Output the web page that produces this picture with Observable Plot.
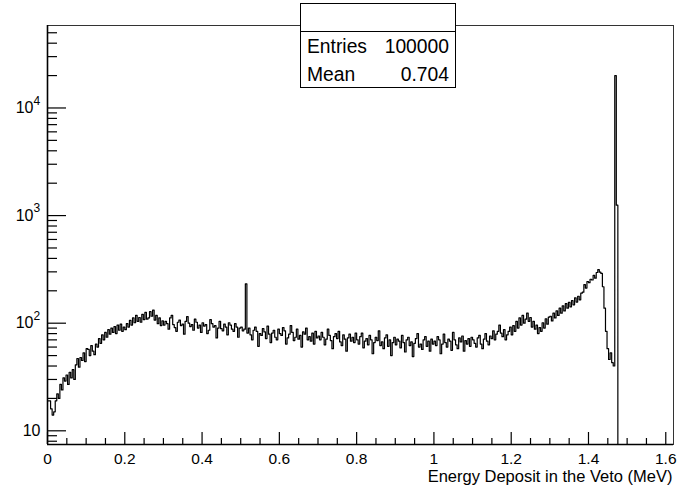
<!DOCTYPE html>
<html><head><meta charset="utf-8">
<script src="https://cdn.jsdelivr.net/npm/d3@7"></script>
<script src="https://cdn.jsdelivr.net/npm/@observablehq/plot@0.6"></script>
<style>
body{margin:0;background:#fff;}
#chart{width:679px;height:488px;}
</style>
</head><body><div id="chart"></div>
<script>
// Histogram: bin width in MeV, counts per bin starting at 0 MeV
const binWidth = 0.004;
const counts = [
  19,19,16,14,15,19,22,20,27,24,31,29,33,27,35,31,37,30,41,47,39,48,45,53,44,
  58,57,50,62,55,51,64,60,72,65,78,70,82,74,87,79,90,82,93,80,96,86,98,84,92,
  87,99,92,106,96,112,101,118,104,113,102,121,108,126,109,112,128,116,132,107,118,99,112,95,105,
  96,104,99,88,112,118,97,91,84,102,107,95,98,79,104,115,100,93,97,86,109,102,90,96,82,
  101,94,97,80,86,108,99,92,95,73,90,104,89,85,98,92,78,101,96,88,84,99,92,74,90,
  92,85,88,232,81,90,78,70,86,92,84,61,80,77,89,83,72,94,79,66,81,86,74,70,88,
  80,77,91,85,64,73,79,95,82,69,74,88,71,77,60,83,79,90,70,75,68,81,64,84,73,
  76,70,82,74,63,71,88,77,69,58,75,80,72,84,67,62,78,71,55,73,79,68,74,66,81,
  70,64,75,81,59,68,72,63,77,70,52,66,74,69,85,62,67,58,73,78,61,70,50,66,74,
  63,71,68,59,77,66,54,70,74,62,67,49,65,72,80,60,64,57,70,75,61,68,55,71,64,
  68,62,75,70,52,64,79,66,60,71,68,56,82,70,63,58,73,67,76,55,69,64,72,61,74,
  70,65,60,73,77,64,58,71,80,68,63,76,72,85,70,79,84,96,81,75,87,70,78,84,92,
  78,95,84,104,90,112,96,118,100,109,124,104,113,92,104,88,96,80,91,84,101,90,110,98,114,
  116,105,124,112,130,118,138,124,145,130,152,138,156,142,162,148,172,157,178,165,190,194,228,212,244,
  238,256,252,278,262,296,314,298,290,218,138,84,58,46,53,43,40,20000,1250
];
const xDomain = [0, 1.62];
const yDomain = [7.46, 58400];
const xMajor = [0, 0.2, 0.4, 0.6, 0.8, 1, 1.2, 1.4, 1.6];
const xLabels = ["0", "0.2", "0.4", "0.6", "0.8", "1", "1.2", "1.4", "1.6"];
const xMinor = [0.05,0.1,0.15,0.25,0.3,0.35,0.45,0.5,0.55,0.65,0.7,0.75,0.85,0.9,0.95,1.05,1.1,1.15,1.25,1.3,1.35,1.45,1.5,1.55];
const yMajor = [10, 100, 1000, 10000];
const yBase = ["10", "10", "10", "10"];
const yExp = ["", "2", "3", "4"];
const yMinor = [8,9,20,30,40,50,60,70,80,90,200,300,400,500,600,700,800,900,2000,3000,4000,5000,6000,7000,8000,9000,20000,30000,40000,50000];
const xTitle = "Energy Deposit in the Veto (MeV)";
const statNames = ["Entries", "Mean"];
const statValues = ["100000", "0.704"];

const FONT = "'Liberation Sans', Arial, Helvetica, sans-serif";

// step outline of the histogram
const pts = [];
counts.forEach((c, i) => {
  pts.push({x: i * binWidth, y: c});
  pts.push({x: (i + 1) * binWidth, y: c});
});
pts.push({x: counts.length * binWidth, y: yDomain[0]});

const expTicks = yMajor.map((v, i) => ({v, base: yBase[i], exp: yExp[i]}));
const withExp = expTicks.filter(d => d.exp !== "");
const noExp = expTicks.filter(d => d.exp === "");

const svg = Plot.plot({
  width: 679,
  height: 488,
  marginLeft: 47,
  marginRight: 6,
  marginTop: 25,
  marginBottom: 44,
  style: {fontFamily: FONT, fontSize: "15px", background: "#fff", color: "#000"},
  x: {domain: xDomain, label: null},
  y: {type: "log", domain: yDomain, label: null},
  marks: [
    Plot.frame({stroke: "#333", strokeWidth: 1}),
    Plot.axisX(xMajor, {anchor: "bottom", tickSize: -12, tickFormat: () => "", label: null, strokeWidth: 1.2}),
    Plot.axisX(xMinor, {anchor: "bottom", tickSize: -6, tickFormat: () => "", label: null, strokeWidth: 1.2}),
    Plot.axisY(yMajor, {anchor: "left", tickSize: -19, tickFormat: () => "", label: null, strokeWidth: 1.2}),
    Plot.axisY(yMinor, {anchor: "left", tickSize: -10, tickFormat: () => "", label: null, strokeWidth: 1.2}),
    Plot.ruleX([xDomain[0]], {stroke: "#000", strokeWidth: 1.6}),
    Plot.ruleY([yDomain[0]], {stroke: "#000", strokeWidth: 1.6}),
    Plot.line(pts, {x: "x", y: "y", stroke: "#000", strokeWidth: 1.2, curve: "linear"}),
    Plot.text(xMajor, {x: d => d, frameAnchor: "bottom", text: (d, i) => xLabels[i], dy: 19, lineAnchor: "bottom", fontSize: 15.5, fill: "#000"}),
    Plot.text([xTitle], {frameAnchor: "bottom-right", text: d => d, textAnchor: "end", dx: -1, dy: 37, lineAnchor: "bottom", fontSize: 16.5, fill: "#000"}),
    Plot.text(withExp, {y: "v", frameAnchor: "left", text: "base", textAnchor: "end", dx: -14, lineAnchor: "middle", fontSize: 16, fill: "#000"}),
    Plot.text(withExp, {y: "v", frameAnchor: "left", text: "exp", textAnchor: "start", dx: -14, dy: -7, lineAnchor: "middle", fontSize: 12, fill: "#000"}),
    Plot.text(noExp, {y: "v", frameAnchor: "left", text: "base", textAnchor: "end", dx: -7, lineAnchor: "middle", fontSize: 16, fill: "#000"})
  ]
});

// statistics box
const g = d3.select(svg).append("g").attr("font-family", FONT).attr("font-size", 19.3)
  .attr("fill", "#000").attr("text-anchor", "start");
g.append("rect").attr("x", 300.5).attr("y", 3.5).attr("width", 155).attr("height", 84)
  .attr("fill", "#fff").attr("stroke", "#000").attr("stroke-width", 1);
g.append("line").attr("x1", 300.5).attr("x2", 455.5).attr("y1", 31.5).attr("y2", 31.5)
  .attr("stroke", "#000").attr("stroke-width", 1);
statNames.forEach((n, i) => {
  const yb = 53 + i * 27.5;
  g.append("text").attr("x", 307).attr("y", yb).attr("text-anchor", "start").text(n);
  g.append("text").attr("x", 449).attr("y", yb).attr("text-anchor", "end").text(statValues[i]);
});

document.getElementById("chart").appendChild(svg);
</script>
</body></html>
